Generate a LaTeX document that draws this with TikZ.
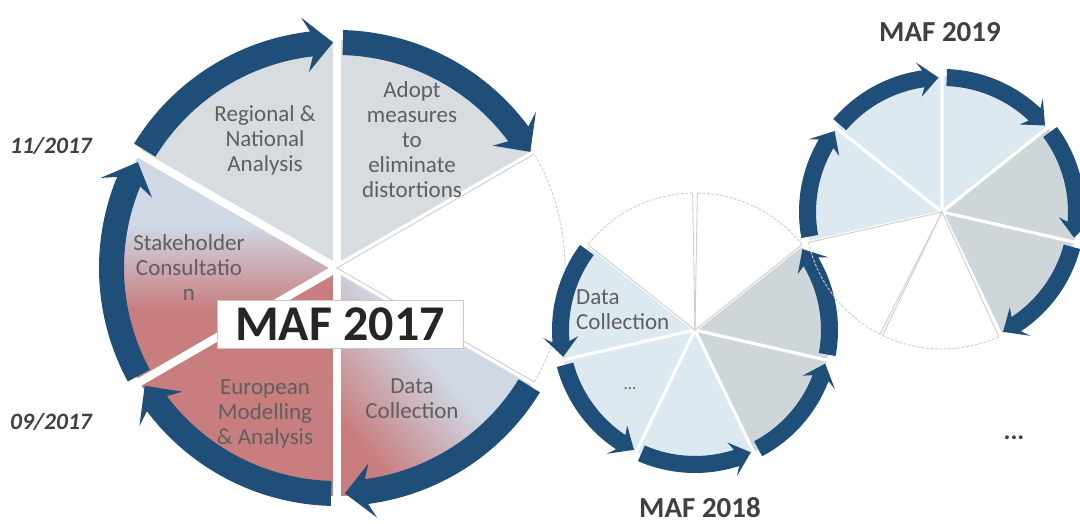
\documentclass[tikz,border=0pt]{standalone}
\usepackage{fontspec}
\setmainfont{Carlito}
\definecolor{ringblue}{RGB}{31,78,121}
\definecolor{slicegray}{RGB}{214,220,223}
\definecolor{redslice}{RGB}{200,126,127}
\definecolor{lightbg}{RGB}{208,216,230}
\definecolor{lightblue}{RGB}{221,233,241}
\definecolor{graytwo}{RGB}{206,214,218}
\definecolor{textgray}{RGB}{95,95,95}
\definecolor{labelgray}{RGB}{64,64,64}
\definecolor{darktext}{RGB}{38,38,38}
\definecolor{outlgray}{RGB}{205,205,205}
\definecolor{boxgray}{RGB}{200,200,200}

% sector: #1 centre, #2 start angle, #3 end angle, #4 radius, #5 style
\newcommand\pieslice[5]{%
  \path[#5,shift={(#1)}] (0,0) -- (#2:#4pt) arc[start angle=#2,end angle=#3,radius=#4pt] -- cycle;}
% outline of an empty sector
\newcommand\emptyslice[4]{%
  \draw[outlgray,line width=0.9pt,shift={(#1)}] (#2:#4pt) -- (0,0) -- (#3:#4pt);
  \draw[outlgray,line width=0.9pt,dash pattern=on 3pt off 1.5pt,shift={(#1)}] (#2:#4pt) arc[start angle=#2,end angle=#3,radius=#4pt];}
% ring arrow: #1 centre, #2 start, #3 tip, #4 r_in, #5 r_out, #6 signed head angle, #7 barb
\newcommand\ringarrow[7]{%
  \pgfmathsetmacro\RAbase{#3+#6}%
  \pgfmathsetmacro\RAbarb{#3+1.3*#6}%
  \pgfmathsetmacro\RAmid{(#4+#5)/2}%
  \pgfmathsetmacro\RAbo{#5+#7}%
  \pgfmathsetmacro\RAbi{#4-#7}%
  \fill[ringblue,shift={(#1)}] (#2:#5pt) arc[start angle=#2,end angle=\RAbase,radius=#5pt]
    -- (\RAbarb:\RAbo pt) -- (#3:\RAmid pt) -- (\RAbarb:\RAbi pt) -- (\RAbase:#4pt)
    arc[start angle=\RAbase,end angle=#2,radius=#4pt] -- cycle;}

\tikzset{
  slicetxt/.style={text=textgray,align=center,inner sep=0pt,font=\fontsize{23}{25}\selectfont},
  datetxt/.style={text=labelgray,inner sep=0pt,font=\fontsize{23.5}{26}\bfseries\itshape\selectfont},
  maftxt/.style={text=labelgray,inner sep=0pt,font=\fontsize{29}{30}\bfseries\selectfont},
  smallsep/.style={draw=white,line width=3pt},
}

\begin{document}
\begin{tikzpicture}[x=1pt,y=1pt]
\useasboundingbox (0,0) rectangle (1080,524);
\coordinate (C1) at (337,256);
\coordinate (C2) at (695,194);
\coordinate (C3) at (942,312);

% ---------------- MAF 2017 ----------------
\pieslice{C1}{90}{150}{228}{fill=slicegray}
\pieslice{C1}{30}{90}{228}{fill=slicegray}
\pieslice{C1}{210}{270}{228}{fill=redslice}
% Stakeholder slice: light above, red below
\begin{scope}
  \clip[shift={(C1)}] (0,0) -- (150:228pt) arc[start angle=150,end angle=210,radius=228pt] -- cycle;
  \fill[lightbg] (100,299) rectangle (340,400);
  \fill[redslice] (100,100) rectangle (340,215);
  \shade[top color=lightbg,bottom color=redslice] (100,214.5) rectangle (340,299.5);
\end{scope}
% Data Collection slice: red lower left, light upper right
\begin{scope}
  \clip[shift={(C1)}] (0,0) -- (270:228pt) arc[start angle=270,end angle=330,radius=228pt] -- cycle;
  \begin{scope}[transform canvas={rotate around={-50:(423,91)}}]
    \fill[redslice] (123,-300) rectangle (723,37);
    \fill[lightbg] (123,145) rectangle (723,500);
    \shade[bottom color=redslice,top color=lightbg] (123,36.5) rectangle (723,145.5);
  \end{scope}
\end{scope}
\foreach \a in {90,30,-30,-90,-150,150}
  \draw[white,line width=8pt,shift={(C1)}] (0,0) -- (\a:232pt);
\emptyslice{C1}{-30}{30}{228}

\ringarrow{C1}{148.5}{91}{213}{238}{5.5}{15}
\ringarrow{C1}{88.5}{31}{213}{238}{5.5}{15}
\ringarrow{C1}{-31.5}{-88}{213}{238}{5.5}{15}
\ringarrow{C1}{-91.5}{-148.5}{213}{238}{5.5}{15}
\ringarrow{C1}{208.5}{152}{213}{238}{5.5}{15}

\node[draw=boxgray,fill=white,line width=0.8pt,minimum width=246pt,minimum height=48pt,inner sep=0pt,
      text=darktext,font=\fontsize{50}{50}\bfseries\selectfont] (m17) at (340,200) {MAF 2017};

\node[slicetxt] (t1) at (265,384) {Regional \&\\National\\Analysis};
\node[slicetxt] (t2) at (412,384) {Adopt\\measures\\to\\eliminate\\distortions};
\node[slicetxt] (t3) at (189,256) {Stakeholder\\Consultatio\\n};
\node[slicetxt] (t4) at (265,110) {European\\Modelling\\\& Analysis};
\node[slicetxt] (t5) at (412,125) {Data\\Collection};

\node[datetxt] (d1) at (51,378) {11/2017};
\node[datetxt] (d2) at (51,102) {09/2017};

% ---------------- MAF 2018 ----------------
\pieslice{C2}{141.43}{192.86}{137}{fill=lightblue,smallsep}
\pieslice{C2}{192.86}{244.29}{137}{fill=lightblue,smallsep}
\pieslice{C2}{244.29}{295.71}{137}{fill=lightblue,smallsep}
\pieslice{C2}{295.71}{347.14}{137}{fill=graytwo,smallsep}
\pieslice{C2}{347.14}{398.57}{137}{fill=graytwo,smallsep}
\emptyslice{C2}{38.57}{89}{137}
\emptyslice{C2}{91}{141.43}{137}

\ringarrow{C2}{143.5}{191.5}{126}{143}{-6.5}{9}
\ringarrow{C2}{195}{243}{126}{143}{-6.5}{9}
\ringarrow{C2}{246.5}{294.5}{126}{143}{-6.5}{9}
\ringarrow{C2}{298}{345.5}{126}{143}{-6.5}{9}
\ringarrow{C2}{349.5}{397}{126}{143}{-6.5}{9}

\node[slicetxt,align=left,anchor=west] (t6) at (576,214) {Data\\Collection};
\node[text=textgray,inner sep=0pt,font=\fontsize{17}{18}\selectfont] (dots2) at (630,135) {...};
\node[maftxt] (m18) at (700,16) {MAF 2018};

% ---------------- MAF 2019 ----------------
\pieslice{C3}{141.43}{192.86}{137}{fill=lightblue,smallsep}
\pieslice{C3}{90}{141.43}{137}{fill=lightblue,smallsep}
\pieslice{C3}{38.57}{90}{137}{fill=lightblue,smallsep}
\pieslice{C3}{-12.86}{38.57}{137}{fill=graytwo,smallsep}
\pieslice{C3}{-64.29}{-12.86}{137}{fill=graytwo,smallsep}
\emptyslice{C3}{-115.71}{-65.5}{137}
\emptyslice{C3}{-167.14}{-116.9}{137}

\ringarrow{C3}{190.5}{143}{126}{143}{6.5}{9}
\ringarrow{C3}{139.5}{91.5}{126}{143}{6.5}{9}
\ringarrow{C3}{88}{40}{126}{143}{6.5}{9}
\ringarrow{C3}{36.5}{-11}{126}{143}{6.5}{9}
\ringarrow{C3}{-15}{-63}{126}{143}{6.5}{9}

\node[maftxt] (m19) at (940,492) {MAF 2019};
\node[text=labelgray,inner sep=0pt,font=\fontsize{26}{26}\bfseries\selectfont] (dots1) at (1014,86) {...};
\end{tikzpicture}
\end{document}
